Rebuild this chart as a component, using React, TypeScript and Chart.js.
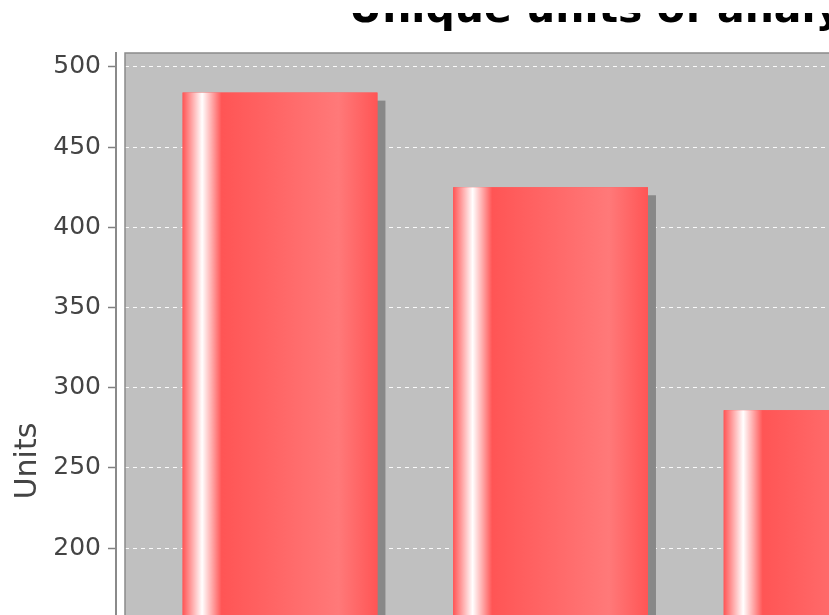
import React, { useEffect, useRef } from "react";
import { Chart, registerables } from "chart.js";

Chart.register(...registerables);

// ---- data ----
const chartTitle = "Unique units of analysis";
const yAxisTitle = "Units";
const categories = ["Group 1", "Group 2", "Group 3"];
const unitCounts = [484, 425, 286];
const yAxisMin = 0;
const yAxisMax = 508.7;
const yTickStep = 50;

// ---- layout of the (partly cropped) canvas ----
const W = 1264;
const H = 897;
const CANVAS_TOP = 13;

const barRed = "#ff5555";
const barRedLight = "#ff7979";

const plotDecor = {
  id: "plotDecor",
  beforeDraw(chart: any) {
    const { ctx, chartArea: a } = chart;
    ctx.save();
    ctx.fillStyle = "#c0c0c0";
    ctx.fillRect(a.left + 9, a.top, a.right - a.left - 9, a.bottom - a.top);
    ctx.restore();
  },
  beforeDatasetsDraw(chart: any) {
    const { ctx, chartArea: a } = chart;
    const meta = chart.getDatasetMeta(0);
    ctx.save();
    ctx.beginPath();
    ctx.rect(a.left + 9, a.top, a.right - a.left - 9, a.bottom - a.top);
    ctx.clip();
    ctx.fillStyle = "#888888";
    meta.data.forEach((el: any) => {
      const p = el.getProps(["x", "y", "base", "width"], true);
      if (p.y == null || isNaN(p.y)) return;
      const l = p.x - p.width / 2;
      ctx.fillRect(l + 8, p.y + 8, p.width, p.base - p.y - 8);
    });
    ctx.restore();
  },
  afterDatasetsDraw(chart: any) {
    const { ctx } = chart;
    const meta = chart.getDatasetMeta(0);
    ctx.save();
    meta.data.forEach((el: any) => {
      const p = el.getProps(["x", "y", "base", "width"], true);
      if (p.y == null || isNaN(p.y)) return;
      const l = p.x - p.width / 2;
      const r = p.x + p.width / 2;
      const g = ctx.createLinearGradient(l, 0, r, 0);
      g.addColorStop(0, barRed);
      g.addColorStop(0.1, "#ffffff");
      g.addColorStop(0.2, barRed);
      g.addColorStop(0.8, barRedLight);
      g.addColorStop(1, barRed);
      ctx.fillStyle = g;
      ctx.fillRect(l, p.y, p.width, p.base - p.y);
    });
    ctx.restore();
  },
  afterDraw(chart: any) {
    const { ctx, chartArea: a } = chart;
    ctx.save();
    ctx.strokeStyle = "#8a8a8a";
    ctx.lineWidth = 1.5;
    ctx.strokeRect(a.left + 9, a.top, a.right - a.left - 9, a.bottom - a.top);
    ctx.restore();
  },
};

export default function App() {
  const ref = useRef<HTMLCanvasElement | null>(null);

  useEffect(() => {
    if (!ref.current) return;
    const chart = new Chart(ref.current, {
      type: "bar",
      data: {
        labels: categories,
        datasets: [
          {
            label: yAxisTitle,
            data: categories.map((c, i) => ({ x: i, y: unitCounts[i] })),
            backgroundColor: barRed,
            borderWidth: 0,
            categoryPercentage: 0.9,
            barPercentage: 0.8,
          },
        ],
      },
      options: {
        animation: false,
        responsive: false,
        maintainAspectRatio: false,
        layout: { padding: { left: 0, right: 10, top: 0, bottom: H - (869 - CANVAS_TOP) } },
        plugins: {
          legend: { display: false },
          tooltip: { enabled: false },
          title: {
            display: true,
            text: chartTitle,
            color: "#000000",
            font: { family: "DejaVu Sans", size: 41, weight: "bold" },
            padding: { top: -26, bottom: 16.8 },
          },
        },
        scales: {
          x: {
            type: "linear",
            display: false,
            offset: false,
            min: -0.6063,
            max: 3.6,
            ticks: { stepSize: 1, includeBounds: false },
            grid: { display: false, offset: false },
          },
          y: {
            type: "linear",
            min: yAxisMin,
            max: yAxisMax,
            afterFit: (scale: any) => {
              scale.width = 116;
            },
            ticks: {
              stepSize: yTickStep,
              includeBounds: false,
              color: "#444444",
              padding: 7,
              font: { family: "DejaVu Sans", size: 25 },
            },
            grid: {
              color: "rgba(255,255,255,0.9)",
              lineWidth: 1,
              tickLength: 8,
              tickColor: "#808080",
              tickWidth: 1.5,
            },
            border: { display: true, color: "#8a8a8a", width: 2, dash: [4, 4] },
            title: {
              display: true,
              text: yAxisTitle,
              color: "#444444",
              font: { family: "DejaVu Sans", size: 30 },
              padding: { top: 10, bottom: 0 },
            },
          },
        },
      },
      plugins: [plotDecor],
    });
    return () => chart.destroy();
  }, []);

  return (
    <div style={{ position: "fixed", left: 0, top: 0, width: "100vw", height: "100vh", overflow: "hidden", background: "#ffffff" }}>
      <div style={{ position: "absolute", left: 0, top: CANVAS_TOP, width: W, height: H }}>
        <canvas ref={ref} width={W} height={H} style={{ width: W, height: H, display: "block" }} />
      </div>
    </div>
  );
}
